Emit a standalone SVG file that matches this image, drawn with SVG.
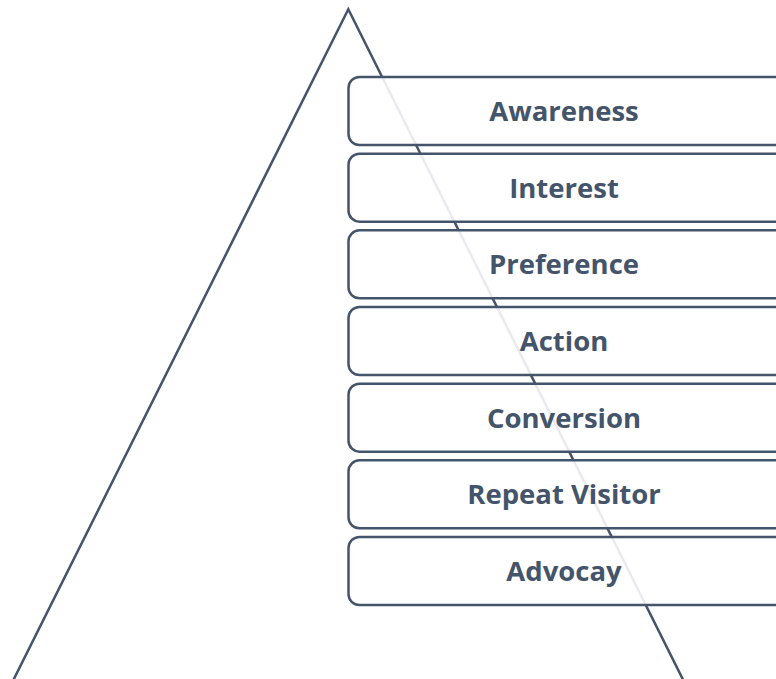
<svg xmlns="http://www.w3.org/2000/svg" width="776" height="679" viewBox="0 0 776 679">
<style>
.box{fill:#ffffff;fill-opacity:0.88;stroke:#44546a;stroke-width:2.5}
.lbl{font-family:"Open Sans","Liberation Sans",sans-serif;font-weight:bold;font-size:27.5px;fill:#44546a;text-anchor:middle}
.tri{fill:none;stroke:#44546a;stroke-width:2.5}
</style>
<rect width="776" height="679" fill="#ffffff"/>
<g id="pyramid">
<path class="tri" d="M 13.4 680 L 348.3 9.3 L 683.2 680"/>
</g>
<g id="awareness"><rect class="box" x="348.5" y="77" width="440" height="68" rx="11"/><text class="lbl" x="564" y="121">Awareness</text></g>
<g id="interest"><rect class="box" x="348.5" y="153.7" width="440" height="68" rx="11"/><text class="lbl" x="564" y="197.7">Interest</text></g>
<g id="preference"><rect class="box" x="348.5" y="230.3" width="440" height="68" rx="11"/><text class="lbl" x="564" y="274.3">Preference</text></g>
<g id="action"><rect class="box" x="348.5" y="307" width="440" height="68" rx="11"/><text class="lbl" x="564" y="351">Action</text></g>
<g id="conversion"><rect class="box" x="348.5" y="383.7" width="440" height="68" rx="11"/><text class="lbl" x="564" y="427.7">Conversion</text></g>
<g id="repeat-visitor"><rect class="box" x="348.5" y="460.3" width="440" height="68" rx="11"/><text class="lbl" x="564" y="504.3">Repeat Visitor</text></g>
<g id="advocay"><rect class="box" x="348.5" y="537" width="440" height="68" rx="11"/><text class="lbl" x="564" y="581">Advocay</text></g>
<g id="connectors"></g>
</svg>
